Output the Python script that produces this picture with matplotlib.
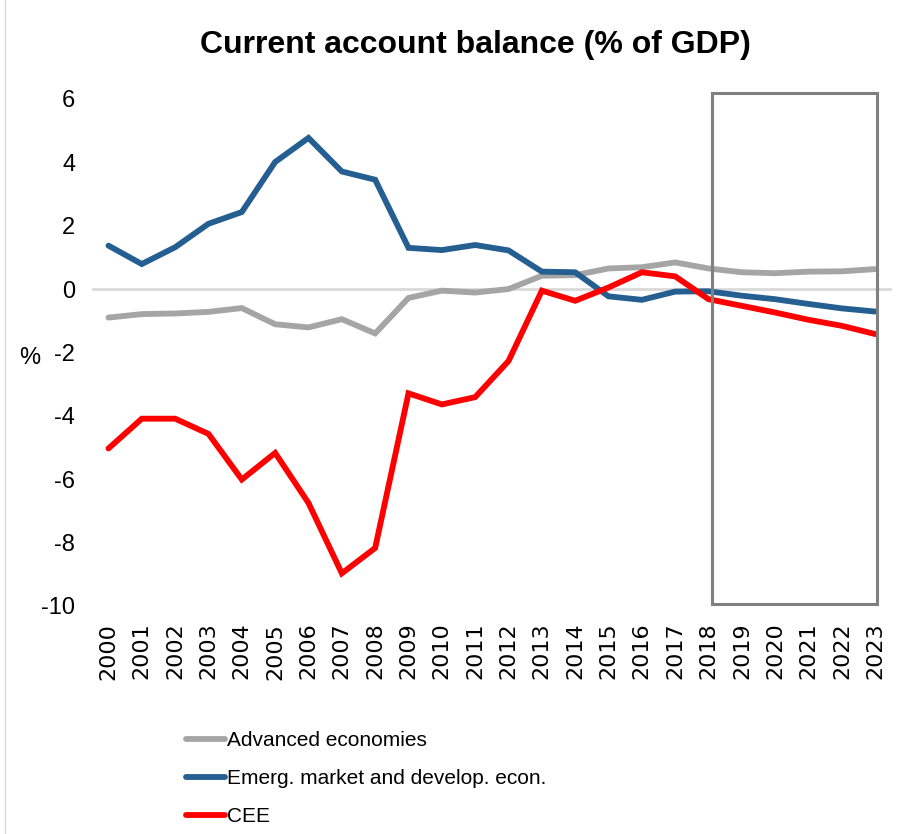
import matplotlib.pyplot as plt
from matplotlib.patches import Rectangle

# Current account balance, % of GDP
years = list(range(2000, 2024))
advanced = [-0.90, -0.79, -0.77, -0.72, -0.60, -1.11, -1.21, -0.95, -1.40, -0.28,
            -0.05, -0.11, 0.00, 0.42, 0.44, 0.65, 0.69, 0.84, 0.65, 0.53,
            0.50, 0.55, 0.56, 0.63]
emerging = [1.37, 0.79, 1.32, 2.06, 2.43, 4.01, 4.77, 3.71, 3.45, 1.30,
            1.23, 1.39, 1.22, 0.55, 0.53, -0.23, -0.34, -0.08, -0.07, -0.21,
            -0.32, -0.47, -0.61, -0.71]
cee = [-5.03, -4.09, -4.09, -4.57, -6.01, -5.17, -6.75, -8.97, -8.17, -3.29,
       -3.64, -3.41, -2.27, -0.05, -0.37, 0.05, 0.53, 0.40, -0.32, -0.53,
       -0.74, -0.97, -1.16, -1.42]
series_labels = ["Advanced economies", "Emerg. market and develop. econ.", "CEE"]
colors = ["#a5a5a5", "#255e91", "#ff0000"]

forecast_start, forecast_end = 2018.1, 2023.05

narrow = ["Liberation Sans", "DejaVu Sans"]

fig = plt.figure(figsize=(9, 8.34), dpi=100)
ax = fig.add_axes([0.102, 0.2734, 0.889, 0.608])

ax.axhline(0, color="#d9d9d9", lw=2, zorder=1)
lines = []
for vals, lab, c in zip([advanced, emerging, cee], series_labels, colors):
    ln, = ax.plot(years, vals, color=c, lw=4.2, label=lab, zorder=3,
                  solid_capstyle="round", solid_joinstyle="miter")
    lines.append(ln)

# forecast box
ax.add_patch(Rectangle((forecast_start, -9.95), forecast_end - forecast_start, 6.2 + 9.95,
                       fill=False, edgecolor="#808080", lw=2.2, clip_on=False, zorder=4))

ax.set_xlim(1999.5, 2023.5)
ax.set_ylim(-10, 6)
ax.set_yticks(range(-10, 7, 2))
ax.set_yticklabels([str(v) for v in range(-10, 7, 2)], family=narrow, fontsize=17)
ax.set_xticks(years)
ax.set_xticklabels([str(y) for y in years], rotation=90, fontsize=16, family="DejaVu Sans")
ax.tick_params(length=0, pad=12)
ax.tick_params(axis="x", pad=12)
for s in ax.spines.values():
    s.set_visible(False)

fig.text(0.033, 1 - 358 / 834, "%", fontsize=17, family=narrow, va="center", ha="center")
fig.text(0.528, 1 - 45 / 834, "Current account balance (% of GDP)", fontsize=23,
         fontweight="bold", family=narrow, ha="center", va="center")

fig.legend(handles=lines, loc="upper left", bbox_to_anchor=(0.197, 1 - 723 / 834),
           frameon=False, prop={"family": narrow, "size": 15}, handlelength=1.9,
           handletextpad=0.1, labelspacing=0.9, borderaxespad=0)

# faint chart border on the left
fig.add_artist(plt.Line2D([0.006, 0.006], [0, 1], color="#d9d9d9", lw=1))

fig.savefig("out.png", dpi=100)
